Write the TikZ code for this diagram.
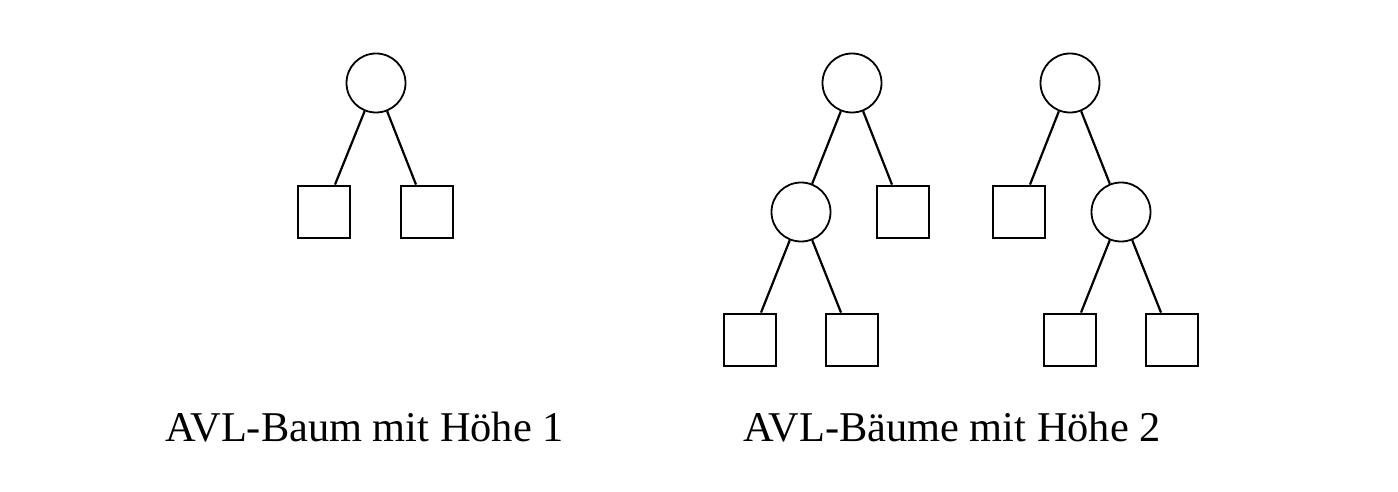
\documentclass[tikz,border=0pt]{standalone}
\usepackage{fontspec}
\setmainfont{Liberation Serif}
\begin{document}
\begin{tikzpicture}
[x=0.5pt,y=-0.5pt,
  innernode/.style={shape=circle,minimum size=29.5pt,inner sep=0pt,draw,line width=0.9pt},%
  leafnode/.style={shape=rectangle,minimum size=26pt,inner sep=0pt,draw,line width=1.4pt},%
  linedecorate/.style={-,line width=1.1pt},%
  captiontext/.style={anchor=base,font=\fontsize{21.2}{25}\selectfont}]
\useasboundingbox (0,0) rectangle (1398,492);
%% inner nodes
\foreach \nodename/\x/\y in {a/376/83, b/852/83, bl/801/212, c/1070/83, cr/1121/212} {
  \node (\nodename) at (\x,\y) [innernode] {};
}
%% leaves
\foreach \nodename/\x/\y in {a1/324/212, a2/427/212, br/903/212, bll/750/340, blr/852/340,
  cl/1019/212, crl/1070/340, crr/1172/340} {
  \node (\nodename) at (\x,\y) [leafnode] {};
}
%% edges between inner nodes
\foreach \startnode/\endnode in {b/bl, c/cr} {
  \draw[linedecorate] (\startnode) -- (\endnode);
}
%% edges to leaves
\foreach \startnode/\endnode/\dx in {a/a1/5.5pt, a/a2/-5.5pt, b/br/-5.5pt, bl/bll/5.5pt,
  bl/blr/-5.5pt, c/cl/5.5pt, cr/crl/5.5pt, cr/crr/-5.5pt} {
  \draw[linedecorate] (\startnode) -- ([xshift=\dx]\endnode.north);
}
%% captions
\node (cap1) at (364.5,441) [captiontext] {AVL-Baum mit Höhe 1};
\node (cap2) at (952,441) [captiontext] {AVL-Bäume mit Höhe 2};
\end{tikzpicture}
\end{document}
